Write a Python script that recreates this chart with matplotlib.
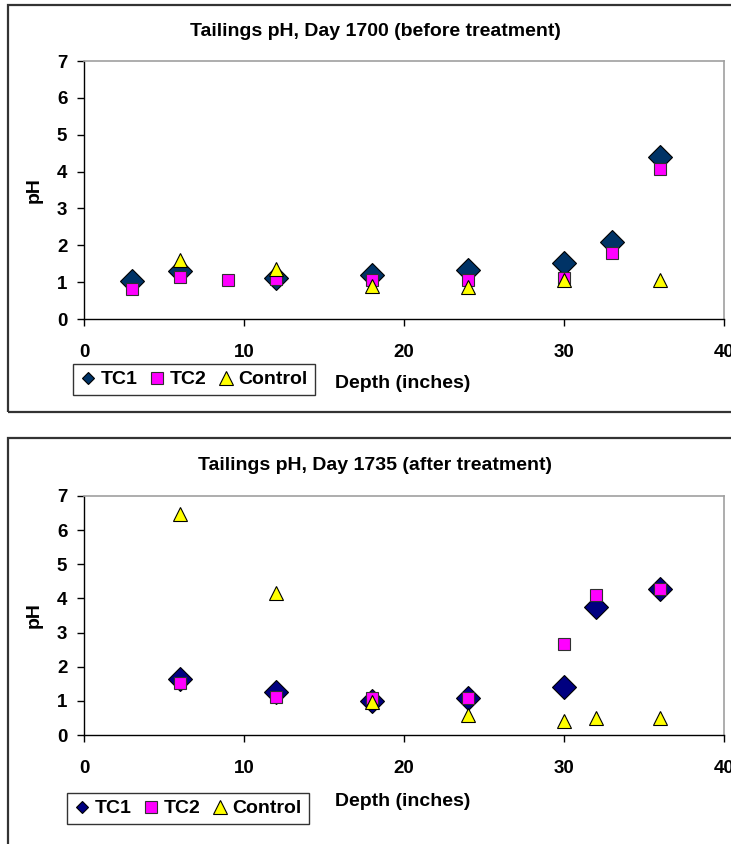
import matplotlib
matplotlib.use("Agg")
import matplotlib.pyplot as plt
from matplotlib.patches import Rectangle
from matplotlib.lines import Line2D

plt.rcParams['font.family'] = ['Liberation Sans', 'DejaVu Sans']
plt.rcParams['font.weight'] = 'bold'

# Day 1700 (before treatment)
before_tc1_depth = [3, 6, 12, 18, 24, 30, 33, 36]
before_tc1_ph = [1.03, 1.31, 1.12, 1.19, 1.33, 1.51, 2.08, 4.40]
before_tc2_depth = [3, 6, 9, 12, 18, 24, 30, 33, 36]
before_tc2_ph = [0.82, 1.13, 1.06, 1.08, 1.07, 1.06, 1.12, 1.78, 4.07]
before_ctrl_depth = [6, 12, 18, 24, 30, 36]
before_ctrl_ph = [1.60, 1.36, 0.90, 0.88, 1.06, 1.06]

# Day 1735 (after treatment)
after_tc1_depth = [6, 12, 18, 24, 30, 32, 36]
after_tc1_ph = [1.64, 1.27, 1.00, 1.07, 1.42, 3.74, 4.27]
after_tc2_depth = [6, 12, 18, 24, 30, 32, 36]
after_tc2_ph = [1.53, 1.12, 1.08, 1.07, 2.66, 4.10, 4.27]
after_ctrl_depth = [6, 12, 18, 24, 30, 32, 36]
after_ctrl_ph = [6.46, 4.15, 0.98, 0.59, 0.42, 0.49, 0.49]

series_names = ['TC1', 'TC2', 'Control']
x_ticks = [0, 10, 20, 30, 40]
y_ticks = [0, 1, 2, 3, 4, 5, 6, 7]

W, H = 731, 844
fig = plt.figure(figsize=(W / 100, H / 100), dpi=100)


def fx(px):
    return px / W


def fy(py):
    return 1 - py / H


def panel(top_px, bottom_px, title, title_y, tc1_color, series, legend_box, label_y, frame):
    ax = fig.add_axes([fx(84), fy(bottom_px), fx(724) - fx(84), fy(top_px) - fy(bottom_px)])
    ax.set_xlim(0, 40)
    ax.set_ylim(0, 7)
    ax.set_xticks(x_ticks)
    ax.set_yticks(y_ticks)
    for s in ('top', 'right'):
        ax.spines[s].set_color('#a0a0a0')
        ax.spines[s].set_linewidth(1.2)
    for s in ('left', 'bottom'):
        ax.spines[s].set_color('black')
        ax.spines[s].set_linewidth(1.0)
    ax.tick_params(axis='x', direction='out', length=5, width=1, pad=13, labelsize=13.5)
    ax.tick_params(axis='y', direction='out', length=5, width=1, pad=7, labelsize=13.5)
    for lab in ax.get_xticklabels() + ax.get_yticklabels():
        lab.set_fontweight('bold')

    styles = [
        dict(marker='D', markersize=12.3, markerfacecolor=tc1_color,
             markeredgecolor='black', zorder=3),
        dict(marker='s', markersize=9.3, markerfacecolor='#FF00FF',
             markeredgecolor='#303030', zorder=4),
        dict(marker='^', markersize=9.8, markerfacecolor='#FFFF00',
             markeredgecolor='black', zorder=5),
    ]
    for (d, v), name, st in zip(series, series_names, styles):
        ax.plot(d, v, linestyle='none', markeredgewidth=0.8, label=name,
                clip_on=False, **st)

    fig.text(fx(375), fy(title_y), title, ha='center', va='center',
             fontsize=14, fontweight='bold')
    fig.text(fx(34), fy((top_px + bottom_px) / 2), 'pH', rotation=90,
             ha='center', va='center', fontsize=14, fontweight='bold')
    fig.text(fx(335), fy(label_y), 'Depth (inches)', ha='left', va='center',
             fontsize=14, fontweight='bold')

    legend_sizes = [6.6, 9.0, 9.5]
    handles = []
    for name, st, ms in zip(series_names, styles, legend_sizes):
        kw = {k: v for k, v in st.items() if k not in ('markersize', 'zorder')}
        handles.append(Line2D([], [], linestyle='none', markersize=ms,
                              markeredgewidth=0.8, label=name, **kw))
    lx0, ly0, lx1, ly1 = legend_box
    leg = fig.legend(handles=handles, loc='center',
                     bbox_to_anchor=(fx((lx0 + lx1) / 2), fy((ly0 + ly1) / 2)),
                     ncol=3, frameon=True, fancybox=False, shadow=False,
                     handlelength=0.8, handletextpad=0.25,
                     columnspacing=0.6, borderpad=0.35, borderaxespad=0,
                     prop={'size': 14, 'weight': 'bold'})
    leg.get_frame().set_edgecolor('black')
    leg.get_frame().set_linewidth(1.0)

    x0, y0, x1, y1 = frame
    fig.add_artist(Rectangle((fx(x0), fy(y1)), fx(x1) - fx(x0), fy(y0) - fy(y1),
                             transform=fig.transFigure, fill=False,
                             edgecolor='#333333', linewidth=1.6))
    return ax


panel(61, 319, 'Tailings pH, Day 1700 (before treatment)', 31, '#003366',
      [(before_tc1_depth, before_tc1_ph), (before_tc2_depth, before_tc2_ph),
       (before_ctrl_depth, before_ctrl_ph)],
      (74, 363, 314, 396), 383, (8, 5, 760, 412))

panel(496, 735, 'Tailings pH, Day 1735 (after treatment)', 466, '#000080',
      [(after_tc1_depth, after_tc1_ph), (after_tc2_depth, after_tc2_ph),
       (after_ctrl_depth, after_ctrl_ph)],
      (68, 792, 308, 825), 802, (8, 438, 760, 900))

fig.savefig('out.png', dpi=100)
